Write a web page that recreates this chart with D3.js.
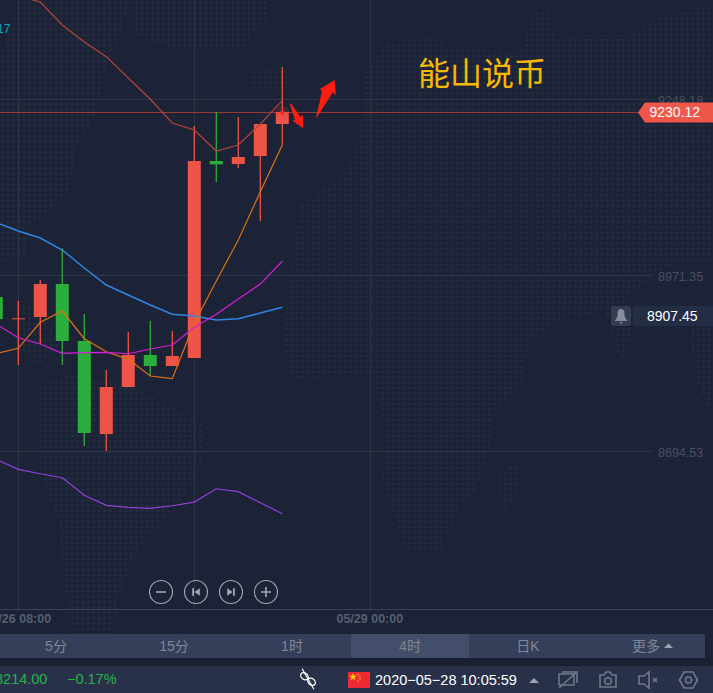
<!DOCTYPE html>
<html>
<head>
<meta charset="utf-8">
<script src="https://cdn.jsdelivr.net/npm/d3@7"></script>
<style>
html, body { margin: 0; padding: 0; background: #1c2336; overflow: hidden; }
svg { display: block; }
text { font-family: "Liberation Sans", "Noto Sans CJK SC", sans-serif; }
.axis path, .axis line { display: none; }
</style>
</head>
<body>
<div id="chart"></div>
<script>
var width = 713,
    height = 693;

// 4h candles
var times = ["2020-05-26 04:00", "2020-05-26 08:00", "2020-05-26 12:00", "2020-05-26 16:00", "2020-05-26 20:00",
    "2020-05-27 00:00", "2020-05-27 04:00", "2020-05-27 08:00", "2020-05-27 12:00", "2020-05-27 16:00",
    "2020-05-27 20:00", "2020-05-28 00:00", "2020-05-28 04:00", "2020-05-28 08:00"];
var opens =  [8937.2, 8903.7, 8905.7, 8957.6, 8868.0, 8721.7, 8795.6, 8846.0, 8828.7, 8841.3, 9151.1, 9146.4, 9159.0, 9209.3];
var closes = [8902.6, 8903.7, 8957.6, 8868.0, 8723.3, 8795.6, 8846.0, 8828.7, 8844.4, 9151.1, 9145.9, 9157.4, 9209.3, 9228.2];
var highs =  [8950.0, 8931.4, 8964.0, 9013.8, 8910.5, 8822.4, 8882.2, 8899.4, 8883.7, 9206.2, 9228.2, 9220.3, 9209.3, 9299.0];
var lows =   [8890.0, 8830.2, 8863.3, 8830.2, 8702.8, 8695.0, 8795.6, 8812.9, 8828.7, 8841.3, 9118.1, 9140.1, 9056.7, 9176.3];

var upperBand = [9420.1, 9410.7, 9401.2, 9365.0, 9338.3, 9315.2, 9281.7, 9248.2, 9210.9, 9199.9, 9166.8, 9176.3, 9209.3, 9246.0];
var blueLine =  [9054.4, 9041.0, 9030.0, 9011.1, 8982.8, 8956.1, 8940.4, 8924.6, 8910.0, 8907.3, 8901.0, 8903.1, 8912.0, 8921.0];
var orangeLine = [8848.3, 8856.5, 8897.4, 8915.2, 8871.6, 8851.2, 8839.2, 8812.9, 8808.7, 8895.8, 8962.4, 9026.9, 9102.8, 9176.3];
var magentaLine = [8894.7, 8873.2, 8863.3, 8848.6, 8849.6, 8850.2, 8848.0, 8855.4, 8861.7, 8889.5, 8910.0, 8934.1, 8957.6, 8993.4];
var lowerBand = [8681.6, 8666.2, 8659.2, 8653.0, 8625.3, 8609.5, 8606.4, 8604.8, 8608.9, 8614.7, 8635.6, 8631.0, 8613.6, 8596.3];

var priceTicks = [9248.18, 8971.35, 8694.53];
var gridTimes = ["2020-05-26 08:00", "2020-05-27 16:00", "2020-05-29 00:00"];
var labelTimes = ["2020-05-26 08:00", "2020-05-29 00:00"];
var periods = ["5分", "15分", "1时", "4时", "日K", "更多"];
var lastPriceLevel = 9227.5, lastPriceText = "9230.12";
var alertPriceLevel = 8907.3, alertPriceText = "8907.45";

var parseTime = d3.utcParse("%Y-%m-%d %H:%M");

var x = d3.scaleUtc()
    .domain([parseTime("2020-05-26 08:00"), parseTime("2020-05-29 00:00")])
    .range([18.3, 370.3]);
var y = d3.scaleLinear()
    .domain([9248.18, 8694.53])
    .range([99.3, 451.3]);

var candles = times.map(function (t, i) {
    return {t: parseTime(t), o: opens[i], c: closes[i], h: highs[i], l: lows[i]};
});

var svg = d3.select("#chart").append("svg")
    .attr("width", width)
    .attr("height", height);

var defs = svg.append("defs");
var pattern = defs.append("pattern")
    .attr("id", "mapDots")
    .attr("patternUnits", "userSpaceOnUse")
    .attr("width", 5.35)
    .attr("height", 5.35);
pattern.append("circle").attr("cx", 2.7).attr("cy", 2.7).attr("r", 1.35).attr("fill", "#262e42");

svg.append("rect").attr("width", width).attr("height", height).attr("fill", "#1c2336");

// dotted world map behind the chart
var mapShapes = [
    "M18,0 L130,0 L122,30 L105,70 L98,110 L75,150 L70,190 L45,215 L30,225 L25,255 L0,262 L0,60 Z",
    "M130,0 L265,0 L270,15 L240,50 L180,50 L135,35 Z",
    "M250,70 L290,70 L290,88 L250,88 Z",
    "M15,310 L38,300 L60,345 L40,365 L15,345 Z",
    "M40,385 L70,375 L130,385 L205,425 L205,450 L195,480 L170,515 L140,545 L120,590 L112,640 L75,640 L65,590 L58,520 L40,475 Z",
    "M300,205 L345,175 L360,135 L365,70 L385,45 L430,35 L450,50 L470,50 L520,52 L535,10 L550,10 L555,38 L585,35 L630,35 L660,18 L713,5 L713,262 L670,265 L640,285 L625,300 L640,305 L622,365 L605,310 L560,320 L530,340 L525,365 L520,385 L495,410 L487,460 L475,490 L458,510 L440,552 L405,552 L395,520 L382,482 L386,430 L372,375 L292,378 L282,340 L290,280 Z",
    "M498,472 L522,462 L515,500 L502,515 Z",
    "M690,330 L713,300 L713,420 L695,375 Z"
];
svg.append("g").selectAll("path")
    .data(mapShapes)
    .enter()
    .append("path")
    .attr("d", function (d) { return d; })
    .attr("fill", "url(#mapDots)");

// grid
svg.append("g").selectAll("line")
    .data(priceTicks)
    .enter()
    .append("line")
    .attr("x1", 0)
    .attr("x2", 653)
    .attr("y1", function (d) { return y(d); })
    .attr("y2", function (d) { return y(d); })
    .attr("stroke", "#303849");
svg.append("g").selectAll("line")
    .data(gridTimes)
    .enter()
    .append("line")
    .attr("x1", function (d) { return x(parseTime(d)); })
    .attr("x2", function (d) { return x(parseTime(d)); })
    .attr("y1", 0)
    .attr("y2", 609)
    .attr("stroke", "#303849");
svg.append("line")
    .attr("x1", 0).attr("x2", width)
    .attr("y1", 609.5).attr("y2", 609.5)
    .attr("stroke", "#3a4256");

// axes
var yAxis = svg.append("g")
    .attr("class", "axis")
    .attr("transform", "translate(658,1)")
    .call(d3.axisRight(y).tickValues(priceTicks).tickSize(0).tickPadding(0).tickFormat(d3.format(".2f")));
yAxis.selectAll("text")
    .attr("font-size", 12.5)
    .style("fill", "#474f62");

var xAxis = svg.append("g")
    .attr("class", "axis")
    .attr("transform", "translate(-1,611)")
    .call(d3.axisBottom(x).tickValues(labelTimes.map(parseTime)).tickSize(0).tickPadding(3)
        .tickFormat(d3.utcFormat("%m/%d %H:%M")));
xAxis.selectAll("text")
    .attr("font-size", 12.5)
    .attr("font-weight", "bold")
    .style("fill", "#565e70");

// last price line, under the candles
svg.append("line")
    .attr("x1", 0).attr("x2", 640)
    .attr("y1", y(lastPriceLevel)).attr("y2", y(lastPriceLevel))
    .attr("stroke", "#a03a3c");

// candles
var up = "#ee5548", down = "#2bae3c";
var candle = svg.append("g").selectAll("g")
    .data(candles)
    .enter()
    .append("g");
candle.append("line")
    .attr("x1", function (d) { return x(d.t); })
    .attr("x2", function (d) { return x(d.t); })
    .attr("y1", function (d) { return y(d.h); })
    .attr("y2", function (d) { return y(d.l); })
    .attr("stroke-width", 1.3)
    .attr("stroke", function (d) { return d.c >= d.o ? up : down; });
candle.append("rect")
    .attr("x", function (d) { return x(d.t) - 6.5; })
    .attr("width", 13)
    .attr("y", function (d) { return y(Math.max(d.o, d.c)); })
    .attr("height", function (d) { return Math.max(1, Math.abs(y(d.o) - y(d.c))); })
    .attr("fill", function (d) { return d.c >= d.o ? up : down; });

// moving averages
var line = d3.line()
    .x(function (d, i) { return x(candles[i].t); })
    .y(function (d) { return y(d); });
var series = [
    {values: upperBand, color: "#b5443a", w: 1.2},
    {values: blueLine, color: "#2f86e2", w: 1.5},
    {values: orangeLine, color: "#e0720f", w: 1.2},
    {values: magentaLine, color: "#d61fd8", w: 1.2},
    {values: lowerBand, color: "#8f42dc", w: 1.2}
];
svg.append("g").selectAll("path")
    .data(series)
    .enter()
    .append("path")
    .attr("d", function (d) { return line(d.values); })
    .attr("fill", "none")
    .attr("stroke-width", function (d) { return d.w; })
    .attr("stroke", function (d) { return d.color; });

// glow on the latest price
var lastCandle = candles[candles.length - 1];
svg.append("circle")
    .attr("cx", x(lastCandle.t)).attr("cy", y(lastPriceLevel))
    .attr("r", 7).attr("fill", "#f03a30").attr("opacity", 0.18);
svg.append("circle")
    .attr("cx", x(lastCandle.t)).attr("cy", y(lastPriceLevel))
    .attr("r", 2.2).attr("fill", "#e8302c");

// cyan label at the top left, cut by the edge
svg.append("text")
    .attr("x", -3).attr("y", 33)
    .attr("font-size", 12)
    .attr("fill", "#12a5c4")
    .text("17");

// hand drawn annotation
svg.append("text")
    .attr("x", 418).attr("y", 85)
    .attr("font-size", 32)
    .style("font-family", "'Noto Sans CJK SC'")
    .attr("fill", "#f7b900")
    .text("能山说币");
svg.append("path")
    .attr("d", "M315.7,119 L322,91.5 L320,89 L334.7,80 L335.7,95.7 L333,92 Z")
    .attr("fill", "#ff1d10");
svg.append("path")
    .attr("d", "M289.8,104 L291,103.5 L300.5,117 L303,114.7 L303,128 L292.3,120.7 L295,120 Z")
    .attr("fill", "#ff1d10");

// price tags
var lastY = y(lastPriceLevel);
svg.append("path")
    .attr("d", "M638," + lastY + " L645," + (lastY - 10) + " L713," + (lastY - 10) + " L713," + (lastY + 10) + " L645," + (lastY + 10) + " Z")
    .attr("fill", "#f0574b");
svg.append("text")
    .attr("x", 649.5).attr("y", lastY + 5)
    .attr("font-size", 14)
    .attr("fill", "#ffffff")
    .text(lastPriceText);

var alertY = y(alertPriceLevel);
svg.append("rect")
    .attr("x", 611).attr("y", alertY - 10).attr("width", 20).attr("height", 20).attr("rx", 2)
    .attr("fill", "#343c52");
svg.append("path")
    .attr("d", "M614.5," + (alertY + 5) + " Q618,"+ (alertY + 1) + " 617.5," + (alertY - 2) + " Q617.5," + (alertY - 7) + " 621," + (alertY - 7) + " Q624.5," + (alertY - 7) + " 624.5," + (alertY - 2) + " Q624," + (alertY + 1) + " 627.5," + (alertY + 5) + " Z M619.5," + (alertY + 6) + " L622.5," + (alertY + 6) + " L621.8," + (alertY + 7.5) + " L620.2," + (alertY + 7.5) + " Z")
    .attr("fill", "#878d9d");
svg.append("rect")
    .attr("x", 633).attr("y", alertY - 10).attr("width", 80).attr("height", 20)
    .attr("fill", "#232d45");
svg.append("text")
    .attr("x", 647).attr("y", alertY + 5)
    .attr("font-size", 14)
    .attr("fill", "#ffffff")
    .text(alertPriceText);

// zoom and step buttons
var btn = svg.append("g").selectAll("g")
    .data(["zoomOut", "prev", "next", "zoomIn"])
    .enter()
    .append("g")
    .attr("transform", function (d, i) { return "translate(" + (161 + i * 35) + ",592)"; });
btn.append("circle")
    .attr("r", 11.5)
    .attr("fill", "none")
    .attr("stroke", "#a3a9b6")
    .attr("stroke-width", 1.1);
btn.append("path")
    .attr("d", function (d) {
        if (d == "zoomOut") return "M-5,-0.8 H5 V0.8 H-5 Z";
        if (d == "zoomIn") return "M-5,-0.8 H-0.8 V-5 H0.8 V-0.8 H5 V0.8 H0.8 V5 H-0.8 V0.8 H-5 Z";
        if (d == "prev") return "M-3.8,-3.8 H-2 V3.8 H-3.8 Z M3.8,-3.8 V3.8 L-1.6,0 Z";
        return "M3.8,-3.8 H2 V3.8 H3.8 Z M-3.8,-3.8 V3.8 L1.6,0 Z";
    })
    .attr("fill", "#a3a9b6");

// period tabs
svg.append("rect").attr("x", 0).attr("y", 634).attr("width", 705).attr("height", 24).attr("fill", "#353f5a");
svg.append("rect").attr("x", 351).attr("y", 634).attr("width", 118).attr("height", 24).attr("rx", 1.5).attr("fill", "#434e6a");
svg.append("g").selectAll("text")
    .data(periods)
    .enter()
    .append("text")
    .attr("x", function (d, i) { return 56 + i * 118; })
    .attr("y", 651)
    .attr("font-size", 14)
    .attr("text-anchor", "middle")
    .attr("fill", "#7f8798")
    .text(function (d) { return d; });
svg.append("path").attr("d", "M664,648 L668.5,643.5 L673,648 Z").attr("fill", "#9aa1af");

// status bar
svg.append("rect").attr("x", 0).attr("y", 658).attr("width", width).attr("height", 8).attr("fill", "#1a2031");
svg.append("rect").attr("x", 0).attr("y", 666).attr("width", width).attr("height", 27).attr("fill", "#283149");
svg.append("text").attr("x", -5).attr("y", 684).attr("font-size", 14.5).attr("fill", "#25b24a").text("8214.00");
svg.append("text").attr("x", 67).attr("y", 684).attr("font-size", 14.5).attr("fill", "#25b24a").text("−0.17%");

// link icon
var link = svg.append("g").attr("transform", "translate(308,679) rotate(38)")
    .attr("fill", "none").attr("stroke", "#ffffff").attr("stroke-width", 1.2);
link.append("ellipse").attr("cx", -4.5).attr("cy", 0).attr("rx", 4.2).attr("ry", 3.2);
link.append("ellipse").attr("cx", 4.5).attr("cy", 0).attr("rx", 4.2).attr("ry", 3.2);
link.append("line").attr("x1", -11).attr("x2", 11).attr("y1", -4.5).attr("y2", 4.5);

// flag
svg.append("rect").attr("x", 348).attr("y", 672).attr("width", 22).attr("height", 16).attr("rx", 1).attr("fill", "#ee2b35");
svg.append("path")
    .attr("d", d3.symbol().type(d3.symbolStar).size(18)())
    .attr("transform", "translate(353,677)")
    .attr("fill", "#ffde00");
svg.append("g").selectAll("circle")
    .data([[358, 674.5], [360, 676.5], [360, 679], [358, 681]])
    .enter()
    .append("circle")
    .attr("cx", function (d) { return d[0]; })
    .attr("cy", function (d) { return d[1]; })
    .attr("r", 0.7)
    .attr("fill", "#ffde00");

svg.append("text").attr("x", 375).attr("y", 685).attr("font-size", 14.5).attr("fill", "#ffffff").text("2020−05−28 10:05:59");
svg.append("path").attr("d", "M529,683 L534,678 L539,683 Z").attr("fill", "#9aa1af");

// toolbar icons
var icons = svg.append("g").attr("fill", "none").attr("stroke", "#6f7789").attr("stroke-width", 1.6);
icons.append("path").attr("d", "M559,674 H574 V685 H559 Z M562,672 H577 V683 M559,688 L577,672");
icons.append("path").attr("d", "M600,675 H604 L606,672 H610 L612,675 H616 V687 H600 Z");
icons.append("circle").attr("cx", 608).attr("cy", 681).attr("r", 3.3);
icons.append("path").attr("d", "M639,676 H644 L649,672 V688 L644,684 H639 Z M653,678 L657,682 M657,678 L653,682");
icons.append("path").attr("d", "M679.5,680 L684,672 H693 L697.5,680 L693,688 H684 Z");
icons.append("circle").attr("cx", 688.5).attr("cy", 680).attr("r", 3);
</script>
</body>
</html>
